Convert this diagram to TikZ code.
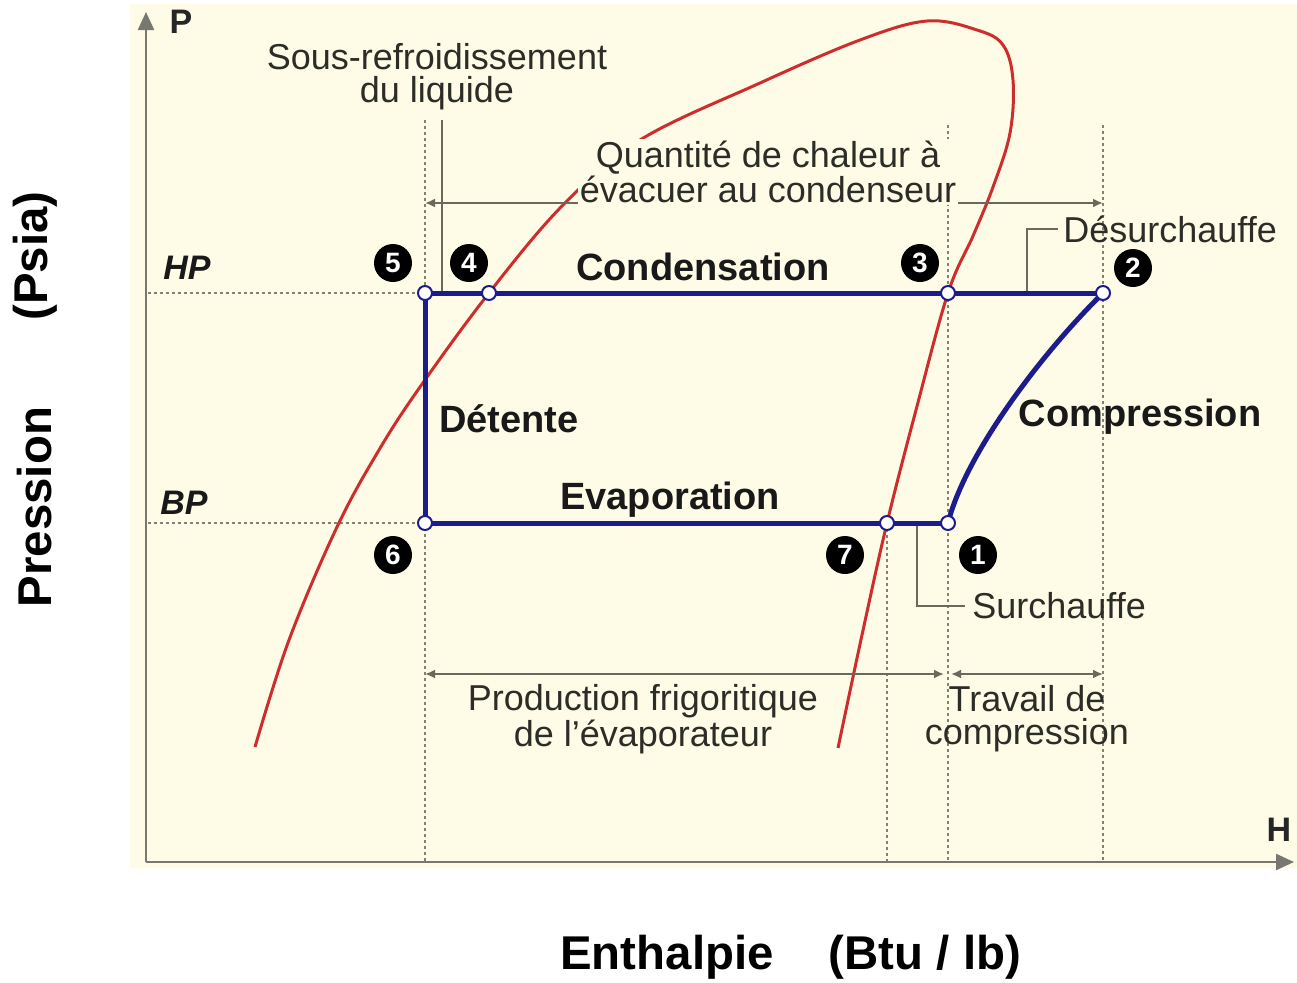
\documentclass[tikz,border=0pt]{standalone}
\usepackage{fontspec}
\setmainfont{Liberation Sans}
\usetikzlibrary{arrows.meta}
\definecolor{cream}{RGB}{254,252,231}
\definecolor{cycleblue}{RGB}{28,28,140}
\definecolor{domered}{RGB}{205,45,45}
\definecolor{guide}{RGB}{130,130,115}
\definecolor{dimline}{RGB}{105,105,92}
\definecolor{txtgray}{RGB}{45,45,40}
\definecolor{axisgray}{RGB}{120,120,112}
\begin{document}
\begin{tikzpicture}[x=0.5pt,y=-0.5pt,
  cyc/.style={draw=cycleblue,line width=2.5pt},
  dome/.style={draw=domered,line width=1.5pt},
  guideline/.style={draw=guide,line width=1pt,dash pattern=on 1.5pt off 1.5pt},
  dimarrow/.style={draw=dimline,line width=1pt,{Latex[length=5pt,width=4.5pt]}-{Latex[length=5pt,width=4.5pt]}},
  leader/.style={draw=dimline,line width=1.1pt},
  axisline/.style={draw=axisgray,line width=1.2pt,-{Triangle[length=9pt,width=8pt]}},
  state/.style={circle,draw=cycleblue,fill=white,line width=1pt,minimum size=7pt,inner sep=0pt},
  num/.style={circle,fill=black,text=white,font=\bfseries\fontsize{14}{14}\selectfont,minimum size=19pt,inner sep=0pt},
  lbl/.style={text=txtgray,font=\fontsize{18}{16.5}\selectfont,align=center,inner sep=1pt},
  blbl/.style={text=black!90,font=\bfseries\fontsize{19}{19}\selectfont,inner sep=0pt},
  pbl/.style={text=black!90,font=\bfseries\itshape\fontsize{17}{17}\selectfont,inner sep=0pt},
  axislbl/.style={font=\bfseries\fontsize{23.7}{24}\selectfont,inner sep=0pt}
]
\useasboundingbox (0,0) rectangle (1297,982);
\fill[white] (0,0) rectangle (1297,982);
\fill[cream] (130,4) rectangle (1297,868);

% coordinates of the cycle
\coordinate (c5) at (425,293);
\coordinate (c4) at (489,293);
\coordinate (c3) at (948,293);
\coordinate (c2) at (1103,293);
\coordinate (c6) at (425,523);
\coordinate (c7) at (887,523);
\coordinate (c1) at (948,523);

% guide coordinates
\coordinate (O) at (146,862);
\coordinate (Ptop) at (146,12);
\coordinate (Hend) at (1294,862);
\coordinate (hpL) at (148,293);
\coordinate (bpL) at (148,523);
\coordinate (g5t) at (425,120);
\coordinate (g5b) at (425,862);
\coordinate (g7b) at (887,862);
\coordinate (g1t) at (948,125);
\coordinate (g1b) at (948,862);
\coordinate (g2t) at (1103,125);
\coordinate (g2b) at (1103,862);

% dotted guides
\draw[guideline] (hpL) -- (c5);
\draw[guideline] (bpL) -- (c6);
\draw[guideline] (g5t) -- (g5b);
\draw[guideline] (c7) -- (g7b);
\draw[guideline] (g1t) -- (g1b);
\draw[guideline] (g2t) -- (g2b);

% axes
\draw[axisline] (O) -- (Ptop);
\draw[axisline] (O) -- (Hend);
\node[font=\bfseries\fontsize{17}{17}\selectfont,text=black!85] (P) at (181,22) {P};
\node[font=\bfseries\fontsize{17}{17}\selectfont,text=black!85] (H) at (1279,830) {H};

% saturation dome
\draw[dome] plot[smooth,tension=0.6] coordinates {(255,747) (289,640) (337,527) (379,450) (420,387) (489,293) (563,205) (640,140) (760,83) (860,40) (927,21) (977,30) (1003,45) (1013,80) (1010,133) (993,187) (973,236) (948,293) (916,410) (887,523) (862,635) (838,748)};

% dimension lines
\coordinate (qL) at (425,203);
\coordinate (qR) at (1103,203);
\draw[dimarrow] (qL) -- (qR);
\coordinate (prL) at (425,674);
\coordinate (prR) at (944,674);
\draw[dimarrow] (prL) -- (prR);
\coordinate (trL) at (951,674);
\coordinate (trR) at (1103,674);
\draw[dimarrow] (trL) -- (trR);

% leaders
\coordinate (srT) at (442,120);
\coordinate (srB) at (442,293);
\draw[leader] (srT) -- (srB);
\coordinate (dsB) at (1027,293);
\coordinate (dsC) at (1027,229);
\coordinate (dsE) at (1058,229);
\draw[leader] (dsB) -- (dsC) -- (dsE);
\coordinate (scT) at (917,523);
\coordinate (scC) at (917,606);
\coordinate (scE) at (965,606);
\draw[leader] (scT) -- (scC) -- (scE);

% cycle
\draw[cyc] (c5) -- (c2);
\draw[cyc] (c5) -- (c6);
\draw[cyc] (c6) -- (c1);
\draw[cyc] (c1) .. controls (965,455) and (1040,355) .. (c2);

\foreach \n in {1,...,7} {\node[state] (s\n) at (c\n) {};}

% number markers
\node[num] (n5) at (393,263) {5};
\node[num] (n4) at (469,263) {4};
\node[num] (n3) at (920,263) {3};
\node[num] (n2) at (1133,268) {2};
\node[num] (n6) at (393,555) {6};
\node[num] (n7) at (845,555) {7};
\node[num] (n1) at (978,555) {1};

% labels
\node[lbl] (tsr) at (437,77) {Sous-refroidissement\\du liquide};
\node[lbl,fill=cream] (tq) at (768,172) {Quantité de chaleur à\\évacuer au condenseur};
\node[lbl,anchor=west] (tds) at (1061,229) {Désurchauffe};
\node[lbl,anchor=west] (tsc) at (970,606) {Surchauffe};
\node[lbl] (tpr) at (643,719) {Production frigoritique\\de l'évaporateur};
\node[lbl] (ttr) at (1027,719) {Travail de\\compression};

\node[blbl] (tcond) at (703,267) {Condensation};
\node[blbl] (tdet) at (509,419) {Détente};
\node[blbl] (tevap) at (670,500) {Evaporation};
\node[blbl] (tcomp) at (1140,417) {Compression};
\node[pbl] (hp) at (187,268) {HP};
\node[pbl] (bp) at (184,503) {BP};

% outer axis titles
\node[axislbl] (ent) at (667,957) {Enthalpie};
\node[axislbl] (btu) at (925,957) {(Btu / lb)};
\node[axislbl,rotate=90] (pre) at (35,507) {Pression};
\node[axislbl,rotate=90] (psia) at (35,256) {(Psia)};
\end{tikzpicture}
\end{document}
